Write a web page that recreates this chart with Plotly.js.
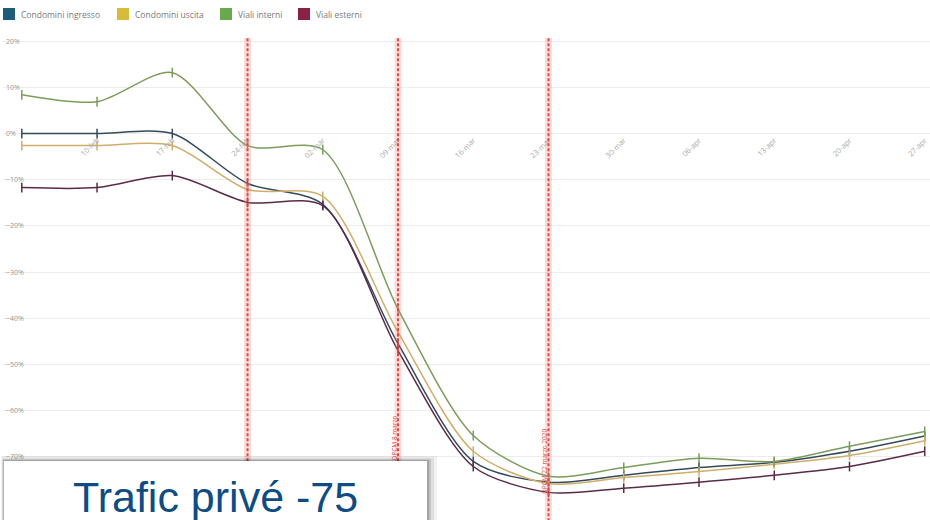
<!DOCTYPE html>
<html>
<head>
<meta charset="utf-8">
<script src="https://cdn.plot.ly/plotly-3.0.1.min.js"></script>
<style>
  html, body { margin: 0; padding: 0; background: #fff; }
  #chart { width: 930px; height: 520px; }
</style>
</head>
<body>
<div id="chart"></div>
<script>
// Weekly change in traffic vs. baseline (%)
const settimane = ["03-feb", "10-feb", "17-feb", "24-feb", "02-mar", "09-mar", "16-mar",
                   "23-mar", "30-mar", "06-apr", "13-apr", "20-apr", "27-apr"];

const condominiIngresso = [0, 0, 0, -10.8, -15.3, -45.5, -71, -75.5, -74, -72.3, -71.2, -68.8, -65.5];
const condominiUscita   = [-2.6, -2.6, -2.6, -12.1, -13.6, -43, -68.8, -75.8, -74.5, -73.2, -71.6, -69.7, -66.5];
const vialiInterni      = [8.4, 6.9, 13.2, -2.6, -3.5, -38, -65.4, -74.2, -72.3, -70.3, -71, -67.7, -64.5];
const vialiEsterni      = [-11.7, -11.7, -9.1, -14.9, -15.6, -47, -72.1, -77.7, -76.8, -75.5, -74, -72.1, -68.8];

const nomiSerie = ["Condomini ingresso", "Condomini uscita", "Viali interni", "Viali esterni"];

// Decree dates marked with vertical lines
const decretiSettimane = ["24-feb", "09-mar", "23-mar"];
const decretiEtichette = ["", "DPCM 8 marzo", "DPCM 22 marzo 2020"];

const titolo = "Trafic privé -75";

const serie = [condominiIngresso, condominiUscita, vialiInterni, vialiEsterni];
const coloriLegenda = ["#1f5c7c", "#d9bb3a", "#6aa84f", "#8a2248"];
const coloriLinea   = ["#34495a", "#cfae6a", "#7c9c5c", "#5a2a48"];
const coloriMarker  = ["#22323e", "#8f7a48", "#4f6b3c", "#3d1a30"];

const traces = serie.map((vals, i) => ({
  type: "scatter", mode: "lines+markers",
  x: settimane, y: vals, name: nomiSerie[i],
  line: { color: coloriLinea[i], width: 1.5, shape: "spline", smoothing: 0.8 },
  marker: { symbol: "line-ns-open", size: 7, line: { color: coloriMarker[i], width: 1.5 } },
  hoverinfo: "x+y+name"
}));

const yMin = -80, yMax = 22;

// plot-area geometry in pixels, used to place overlay items
const W = 927, H = 471, L = 3, B = 503;
const px = v => (v - L) / W;
const py = v => (B - v) / H;

const shapes = [];
const annotations = [];

// legend row with square swatches
const legendaX = [3, 117, 220, 298];
nomiSerie.forEach((nome, i) => {
  shapes.push({ type: "rect", xref: "paper", yref: "paper",
                x0: px(legendaX[i]), x1: px(legendaX[i] + 12), y0: py(20), y1: py(8),
                fillcolor: coloriLegenda[i], line: { width: 0 } });
  annotations.push({ xref: "paper", yref: "paper", x: px(legendaX[i] + 16), y: py(14),
                     xanchor: "left", yanchor: "middle", text: nome, showarrow: false,
                     font: { family: "Open Sans, sans-serif", size: 8.5, color: "#7a7a7a" } });
});

decretiSettimane.forEach(d => {
  shapes.push({ type: "line", xref: "x", yref: "paper", x0: d, x1: d, y0: -0.06, y1: 0.987,
                line: { color: "rgba(238,130,130,0.28)", width: 7 } });
  shapes.push({ type: "line", xref: "x", yref: "paper", x0: d, x1: d, y0: -0.06, y1: 0.987,
                line: { color: "#df4a3c", width: 2, dash: "3px,2px" } });
});

// title card with soft shadow
[[10, 0.05], [7, 0.08], [4, 0.12], [2, 0.16]].forEach(([o, a]) => {
  shapes.push({ type: "rect", xref: "paper", yref: "paper", layer: "above",
                x0: px(4 - o * 0.3), x1: px(427 + o), y0: py(540), y1: py(461 - o * 0.5),
                fillcolor: "rgba(0,0,0," + a + ")", line: { width: 0 } });
});
shapes.push({ type: "rect", xref: "paper", yref: "paper", layer: "above",
              x0: px(4), x1: px(427), y0: py(540), y1: py(461),
              fillcolor: "#ffffff", line: { width: 0 } });

decretiSettimane.forEach((d, i) => {
  if (!decretiEtichette[i]) return;
  annotations.push({ x: d, y: i === 1 ? -66 : -71, xref: "x", yref: "y", text: decretiEtichette[i],
                     textangle: -90, showarrow: false, xshift: -4,
                     font: { family: "Open Sans, sans-serif", size: 6.5, color: "#d9483a" } });
});
annotations.push({ xref: "paper", yref: "paper", x: px(215), y: py(497), xanchor: "center", yanchor: "middle",
                   text: titolo, showarrow: false,
                   font: { family: "Liberation Sans, Arial, sans-serif", size: 43, color: "#0f4c81" } });

const layout = {
  width: 930, height: 520,
  margin: { l: L, r: 0, t: 32, b: 17 },
  paper_bgcolor: "#ffffff", plot_bgcolor: "#ffffff",
  showlegend: false,
  xaxis: { type: "category", range: [-0.25, 12.07], anchor: "free",
           position: (0 - yMin) / (yMax - yMin), showgrid: false, zeroline: false, showline: false,
           ticks: "", tickangle: -45,
           tickfont: { family: "Open Sans, sans-serif", size: 7.5, color: "#a8a8a8" } },
  yaxis: { range: [yMin, yMax], dtick: 10, tick0: 0, ticksuffix: "%", ticklabelposition: "inside",
           showgrid: true, gridcolor: "#ececec", gridwidth: 1, zeroline: false, showline: false,
           tickfont: { family: "Open Sans, sans-serif", size: 7, color: "#9a9a9a" } },
  shapes: shapes,
  annotations: annotations
};

Plotly.newPlot("chart", traces, layout, { displayModeBar: false, responsive: false });
</script>
</body>
</html>
